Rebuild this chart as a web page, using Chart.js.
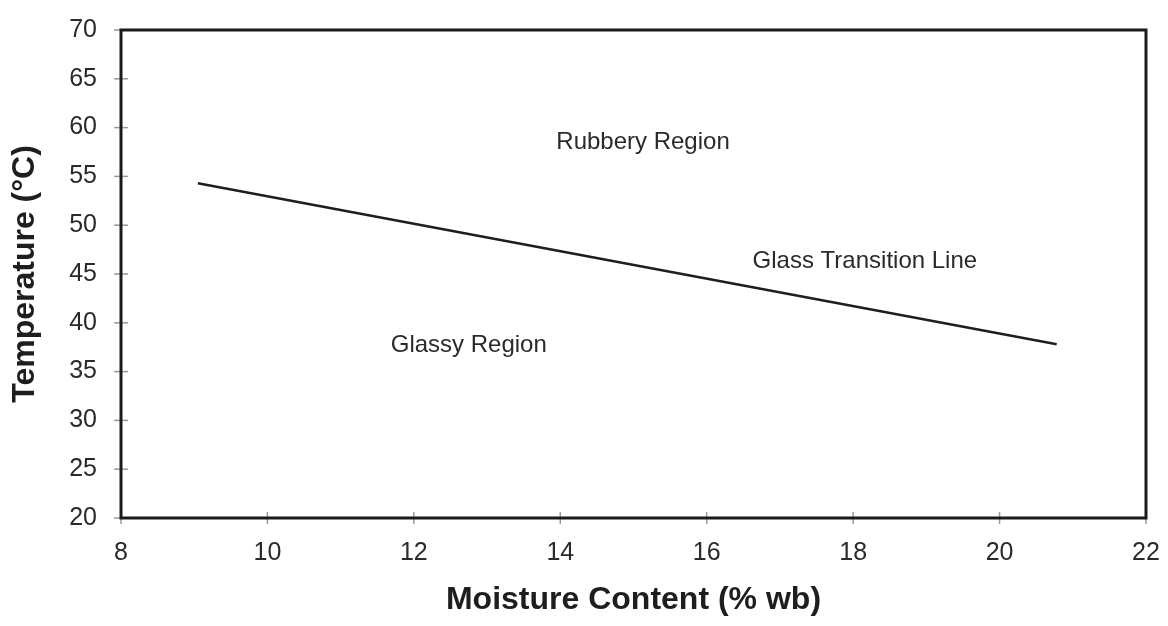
<!DOCTYPE html>
<html>
<head>
<meta charset="utf-8">
<script src="https://cdn.jsdelivr.net/npm/chart.js@4.4.0/dist/chart.umd.min.js"></script>
<style>
  html, body { margin: 0; padding: 0; background: #fff; }
  #wrap { width: 1168px; height: 626px; }
</style>
</head>
<body>
<div id="wrap"><canvas id="chart"></canvas></div>
<script>
// glass transition line
var moisture = [9.05, 20.78];
var temperature = [54.3, 37.8];

// region labels written inside the plot
var noteText = ["Rubbery Region", "Glass Transition Line", "Glassy Region"];
var noteX = [15.13, 18.16, 12.75];
var noteY = [58.5, 46.3, 37.7];

var xMin = 8, xMax = 22, xStep = 2;
var yMin = 20, yMax = 70, yStep = 5;

var points = [];
for (var i = 0; i < moisture.length; i++) {
    points.push({x: moisture[i], y: temperature[i]});
}

var fontFamily = "'Liberation Sans', Arial, sans-serif";

// frame, crossing ticks and the text notes
var extras = {
    id: "extras",
    afterDraw: function(chart) {
        var ctx = chart.ctx;
        var a = chart.chartArea;
        var xs = chart.scales.x, ys = chart.scales.y;
        ctx.save();
        ctx.strokeStyle = "#9a9a9a";
        ctx.lineWidth = 1.5;
        xs.ticks.forEach(function(t) {
            var px = xs.getPixelForValue(t.value);
            ctx.beginPath();
            ctx.moveTo(px, a.bottom - 6);
            ctx.lineTo(px, a.bottom + 6);
            ctx.stroke();
        });
        ys.ticks.forEach(function(t) {
            var py = ys.getPixelForValue(t.value);
            ctx.beginPath();
            ctx.moveTo(a.left - 7, py);
            ctx.lineTo(a.left + 7, py);
            ctx.stroke();
        });
        ctx.strokeStyle = "#1a1a1a";
        ctx.lineWidth = 3;
        ctx.strokeRect(a.left, a.top, a.right - a.left, a.bottom - a.top);

        ctx.fillStyle = "#2a2a2a";
        ctx.font = "24px " + fontFamily;
        ctx.textAlign = "center";
        ctx.textBaseline = "middle";
        for (var i = 0; i < noteText.length; i++) {
            ctx.fillText(noteText[i], xs.getPixelForValue(noteX[i]), ys.getPixelForValue(noteY[i]));
        }
        ctx.restore();
    }
};

var ctx = document.getElementById("chart").getContext("2d");
var chart = new Chart(ctx, {
    type: "scatter",
    data: {
        datasets: [{
            type: "line",
            label: "Glass Transition Line",
            data: points,
            borderColor: "#1e1e1e",
            borderWidth: 2.5,
            pointRadius: 0,
            fill: false
        }]
    },
    options: {
        responsive: true,
        maintainAspectRatio: false,
        animation: false,
        layout: { padding: { top: 30, right: 22, left: 0, bottom: 0 } },
        plugins: {
            legend: { display: false },
            tooltip: { enabled: false }
        },
        scales: {
            x: {
                type: "linear",
                min: xMin, max: xMax,
                grid: { display: false },
                border: { display: false },
                ticks: {
                    stepSize: xStep,
                    color: "#2a2a2a",
                    padding: 12,
                    font: { family: fontFamily, size: 25 }
                },
                title: {
                    display: true,
                    text: "Moisture Content (% wb)",
                    color: "#1e1e1e",
                    padding: { top: 4, bottom: 7 },
                    font: { family: fontFamily, size: 32, weight: "bold" }
                },
                afterFit: function(s) {
                    s.height = 108;
                    s.paddingLeft = 0;
                    s.paddingRight = 0;
                }
            },
            y: {
                type: "linear",
                min: yMin, max: yMax,
                grid: { display: false },
                border: { display: false },
                ticks: {
                    stepSize: yStep,
                    color: "#2a2a2a",
                    padding: 16,
                    font: { family: fontFamily, size: 25 }
                },
                title: {
                    display: true,
                    text: "Temperature (°C)",
                    color: "#1e1e1e",
                    padding: { top: 6, bottom: 4 },
                    font: { family: fontFamily, size: 32, weight: "bold" }
                },
                afterFit: function(s) {
                    s.width = 121;
                    s.paddingTop = 0;
                    s.paddingBottom = 0;
                }
            }
        }
    },
    plugins: [extras]
});
</script>
</body>
</html>
